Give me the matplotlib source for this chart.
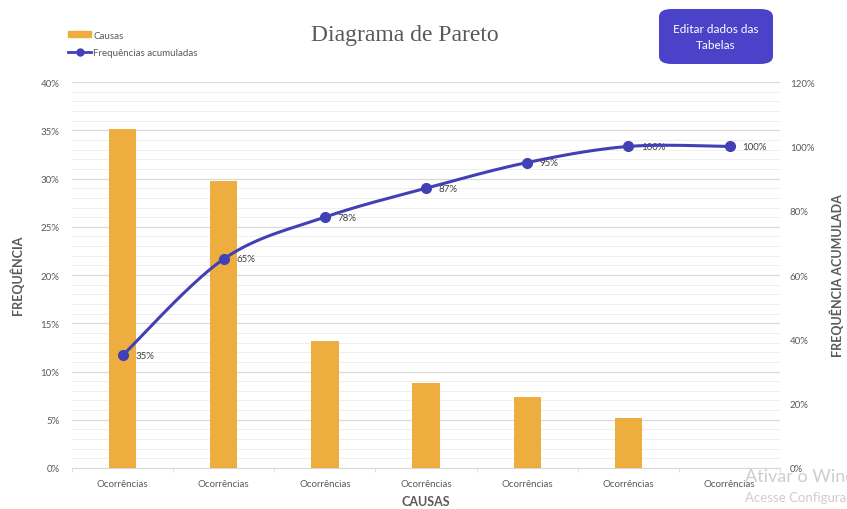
import numpy as np
import matplotlib
matplotlib.use("Agg")
import matplotlib.pyplot as plt
from matplotlib.patches import FancyBboxPatch
from matplotlib.lines import Line2D
from matplotlib.patches import Patch

categories = ["Ocorrências"] * 7
freq = [35.1, 29.8, 13.2, 8.8, 7.4, 5.2, 0.0]
cum = [35, 65, 78, 87, 95, 100, 100]
cum_labels = ["35%", "65%", "78%", "87%", "95%", "100%", "100%"]
left_ticks = [0, 5, 10, 15, 20, 25, 30, 35, 40]
right_ticks = [0, 20, 40, 60, 80, 100, 120]

plt.rcParams['font.family'] = ['Lato', 'DejaVu Sans']

BAR = "#EDAE3F"
LINE = "#4141B5"
TXT = "#595959"

fig = plt.figure(figsize=(8.47, 5.10), dpi=100)
ax = fig.add_axes([0.085, 0.0804, 0.836, 0.7566])
ax2 = ax.twinx()

x = np.arange(len(categories))
ax.bar(x, freq, width=0.27, color=BAR, zorder=3)
ax.set_xlim(-0.5, len(categories) - 0.5)
ax.set_ylim(0, 40)
ax.set_yticks(left_ticks)
ax.set_yticklabels([f"{t}%" for t in left_ticks])
ax.set_yticks(np.arange(0, 41, 1), minor=True)
ax.grid(axis='y', which='major', color="#D9D9D9", lw=0.9, zorder=0)
ax.grid(axis='y', which='minor', color="#EFEFEF", lw=0.7, zorder=0)
ax.set_xticks(x)
ax.set_xticklabels(categories)
ax.set_xticks(np.arange(-0.5, len(categories), 1), minor=True)
ax.tick_params(axis='x', which='major', length=0, labelsize=7, colors=TXT, pad=8)
ax.tick_params(axis='x', which='minor', length=3, color="#D9D9D9")
ax.tick_params(axis='y', which='both', length=0, labelsize=7, colors=TXT, pad=9)
for s in ['top', 'right', 'left']:
    ax.spines[s].set_visible(False)
ax.spines['bottom'].set_color("#D9D9D9")
for s in ax2.spines.values():
    s.set_visible(False)

# smooth line (Catmull-Rom through the points)
P = np.column_stack([x, cum]).astype(float)
ext = np.vstack([P[0], P, P[-1]])
xs, ys = [], []
t = np.linspace(0, 1, 40)
for i in range(1, len(ext) - 2):
    p0, p1, p2, p3 = ext[i - 1], ext[i], ext[i + 1], ext[i + 2]
    m1 = (p2 - p0) / 2
    m2 = (p3 - p1) / 2
    h00 = 2 * t**3 - 3 * t**2 + 1
    h10 = t**3 - 2 * t**2 + t
    h01 = -2 * t**3 + 3 * t**2
    h11 = t**3 - t**2
    seg = (np.outer(h00, p1) + np.outer(h10, m1) + np.outer(h01, p2) + np.outer(h11, m2))
    xs.extend(seg[:, 0]); ys.extend(seg[:, 1])
ax2.plot(xs, ys, color=LINE, lw=2.2, zorder=4)
ax2.plot(x, cum, 'o', color=LINE, ms=7, zorder=5)
for xi, yi, lab in zip(x, cum, cum_labels):
    ax2.annotate(lab, (xi, yi), xytext=(9, 0), textcoords='offset points',
                 va='center', ha='left', fontsize=7, color="#404040")
ax2.set_ylim(0, 120)
ax2.set_yticks(right_ticks)
ax2.set_yticklabels([f"{t}%" for t in right_ticks])
ax2.tick_params(axis='y', length=0, labelsize=7, colors=TXT, pad=7)

fig.text(17 / 847, 1 - 275 / 510, "FREQUÊNCIA", fontsize=9, fontweight='bold', color=TXT,
         rotation=90, ha='center', va='center')
fig.text(837 / 847, 1 - 276 / 510, "FREQUÊNCIA ACUMULADA", fontsize=9, fontweight='bold',
         color=TXT, rotation=90, ha='center', va='center')
ax.set_xlabel("CAUSAS", fontsize=9, fontweight='bold', color=TXT, labelpad=5)

fig.text(0.478, 0.93, "Diagrama de Pareto", fontsize=17, color=TXT,
         family='Liberation Serif', ha='center', va='center')

# legend
handles = [Patch(color=BAR), Line2D([0], [0], color=LINE, lw=2, marker='o', ms=5)]
leg = fig.legend(handles, ["Causas", "Frequências acumuladas"], loc='upper left',
                 bbox_to_anchor=(0.07, 0.955), frameon=False, fontsize=7,
                 handlelength=2.4, handleheight=0.5, handletextpad=0.2, labelspacing=0.9)
for t_ in leg.get_texts():
    t_.set_color(TXT)

# button
bx0, by0, bw, bh = 659 / 847, 1 - 65 / 510, 114 / 847, 55 / 510
btn = FancyBboxPatch((bx0, by0), bw, bh, boxstyle="round,pad=0,rounding_size=0.015",
                     transform=fig.transFigure, facecolor="#4A43C9", edgecolor="none")
fig.patches.append(btn)
fig.text(bx0 + bw / 2, by0 + bh / 2, "Editar dados das\nTabelas", color="white",
         fontsize=8.5, ha='center', va='center', linespacing=1.5)

# watermark
fig.text(745 / 847, 1 - 477 / 510, "Ativar o Windows", fontsize=13, color="#C8C8C8",
         ha='left', va='center', alpha=0.9)
fig.text(745 / 847, 1 - 498 / 510, "Acesse Configurações", fontsize=9.5, color="#C8C8C8",
         ha='left', va='center', alpha=0.9)

fig.savefig("out.png", dpi=100)
